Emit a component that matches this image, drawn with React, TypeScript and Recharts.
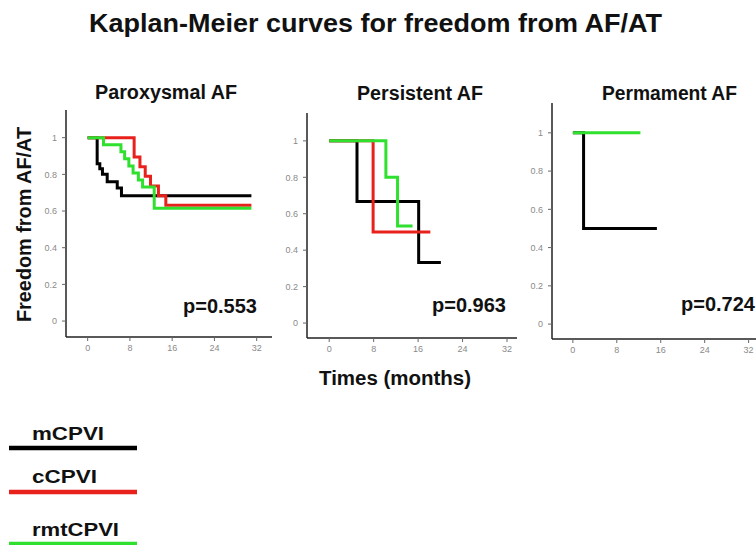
import { LineChart, Line, XAxis, YAxis } from "recharts";

const monthTicks = [0, 8, 16, 24, 32];
const freedomTicks = [0, 0.2, 0.4, 0.6, 0.8, 1];

const seriesNames = ["mCPVI", "cCPVI", "rmtCPVI"];
const seriesColors = ["#000000", "#e8211d", "#2fe02f"];

// Paroxysmal AF
const parMTime = [0, 1.8, 2.3, 2.8, 3.7, 5.6, 6.4, 31];
const parMFree = [1, 0.858, 0.83, 0.8, 0.76, 0.725, 0.684, 0.684];
const parCTime = [0, 8.8, 9.9, 10.9, 11.9, 13.4, 14.8, 31];
const parCFree = [1, 0.895, 0.842, 0.79, 0.737, 0.684, 0.632, 0.632];
const parRTime = [0, 3.0, 6.3, 7.0, 7.8, 8.6, 9.6, 10.4, 12.6, 31];
const parRFree = [1, 0.962, 0.923, 0.885, 0.846, 0.808, 0.769, 0.731, 0.615, 0.615];

// Persistent AF
const perMTime = [0, 5.0, 16.1, 20.1];
const perMFree = [1, 0.667, 0.333, 0.333];
const perCTime = [0, 7.9, 18.2];
const perCFree = [1, 0.5, 0.5];
const perRTime = [0, 10.2, 12.3, 15.0];
const perRFree = [1, 0.8, 0.533, 0.533];

// Permament AF
const permMTime = [0, 1.95, 15.3];
const permMFree = [1, 0.5, 0.5];
const permRTime = [0, 12.3];
const permRFree = [1, 1];

const toPoints = (time: number[], free: number[]) =>
    time.map((t, i) => ({ t, s: free[i] }));

type Curve = { name: string; color: string; points: { t: number; s: number }[] };

const fmtFreedom = (v: number) => (v === 0 || v === 1 ? String(v) : v.toFixed(1));

const FONT = "'Liberation Sans', Arial, sans-serif";

interface PanelProps {
    x: number;
    y: number;
    w: number;
    h: number;
    xDomain: [number, number];
    yDomain: [number, number];
    curves: Curve[];
}

const Panel = ({ x, y, w, h, xDomain, yDomain, curves }: PanelProps) => {
    const left = 42;
    const top = 6;
    const right = 6;
    const bottom = 28;
    const tickStyle = { fill: "#8a8a8a", fontSize: 9, fontFamily: FONT };

    return (
        <div style={{ position: "absolute", left: x - left, top: y - top }}>
            <LineChart
                width={w + left + right}
                height={h + top + bottom}
                margin={{ top, right, bottom: 0, left: 0 }}
            >
                <XAxis
                    type="number"
                    dataKey="t"
                    domain={xDomain}
                    ticks={monthTicks}
                    allowDataOverflow
                    height={bottom}
                    tickSize={4}
                    tickMargin={4}
                    axisLine={{ stroke: "#222", strokeWidth: 1.5 }}
                    tickLine={{ stroke: "#666" }}
                    tick={tickStyle}
                />
                <YAxis
                    type="number"
                    domain={yDomain}
                    ticks={freedomTicks}
                    allowDataOverflow
                    width={left}
                    tickSize={4}
                    tickMargin={5}
                    tickFormatter={fmtFreedom}
                    axisLine={{ stroke: "#222", strokeWidth: 1.5 }}
                    tickLine={{ stroke: "#666" }}
                    tick={tickStyle}
                />
                {curves.map((c) => (
                    <Line
                        key={c.name}
                        data={c.points}
                        dataKey="s"
                        type="stepAfter"
                        stroke={c.color}
                        strokeWidth={3}
                        dot={false}
                        isAnimationActive={false}
                    />
                ))}
            </LineChart>
        </div>
    );
};

const App = () => {
    const parCurves: Curve[] = [
        { name: seriesNames[0], color: seriesColors[0], points: toPoints(parMTime, parMFree) },
        { name: seriesNames[1], color: seriesColors[1], points: toPoints(parCTime, parCFree) },
        { name: seriesNames[2], color: seriesColors[2], points: toPoints(parRTime, parRFree) },
    ];
    const perCurves: Curve[] = [
        { name: seriesNames[0], color: seriesColors[0], points: toPoints(perMTime, perMFree) },
        { name: seriesNames[1], color: seriesColors[1], points: toPoints(perCTime, perCFree) },
        { name: seriesNames[2], color: seriesColors[2], points: toPoints(perRTime, perRFree) },
    ];
    const permCurves: Curve[] = [
        { name: seriesNames[0], color: seriesColors[0], points: toPoints(permMTime, permMFree) },
        { name: seriesNames[2], color: seriesColors[2], points: toPoints(permRTime, permRFree) },
    ];

    const legendY = [440, 483, 536];
    const legendLen = [72, 65, 87];
    const legendLineY = [448, 492, 544];

    return (
        <div
            style={{
                position: "absolute",
                left: 0,
                top: 0,
                width: 756,
                height: 545,
                overflow: "hidden",
                background: "#fff",
                fontFamily: FONT,
            }}
        >
            <Panel x={66} y={110} w={206} h={227} xDomain={[-4.1, 34.9]} yDomain={[-0.087, 1.151]} curves={parCurves} />
            <Panel x={307} y={113} w={210} h={225} xDomain={[-4, 33.8]} yDomain={[-0.082, 1.153]} curves={perCurves} />
            <Panel x={552} y={103} w={212} h={236} xDomain={[-3.8, 34.8]} yDomain={[-0.078, 1.156]} curves={permCurves} />

            <svg
                width={756}
                height={545}
                style={{ position: "absolute", left: 0, top: 0, pointerEvents: "none" }}
                fontFamily={FONT}
                fontWeight="bold"
                fill="#111"
            >
                <text x={89} y={31.5} fontSize={26} textLength={573} lengthAdjust="spacingAndGlyphs">
                    Kaplan-Meier curves for freedom from AF/AT
                </text>

                <text x={95} y={99} fontSize={19.5} textLength={142} lengthAdjust="spacingAndGlyphs">
                    Paroxysmal AF
                </text>
                <text x={357} y={100} fontSize={19.5} textLength={126} lengthAdjust="spacingAndGlyphs">
                    Persistent AF
                </text>
                <text x={602} y={100} fontSize={19.5} textLength={135} lengthAdjust="spacingAndGlyphs">
                    Permament AF
                </text>

                <text
                    transform="translate(31,224.5) rotate(-90)"
                    textAnchor="middle"
                    fontSize={19.5}
                    textLength={195}
                    lengthAdjust="spacingAndGlyphs"
                >
                    Freedom from AF/AT
                </text>
                <text x={319} y={385} fontSize={20} textLength={152} lengthAdjust="spacingAndGlyphs">
                    Times (months)
                </text>

                <text x={257} y={313} fontSize={20} textAnchor="end">p=0.553</text>
                <text x={506} y={312} fontSize={20} textAnchor="end">p=0.963</text>
                <text x={755} y={311} fontSize={20} textAnchor="end">p=0.724</text>

                {seriesNames.map((name, i) => (
                    <g key={name}>
                        <text x={32} y={legendY[i]} fontSize={19} textLength={legendLen[i]} lengthAdjust="spacingAndGlyphs">
                            {name}
                        </text>
                        <line x1={9} x2={137} y1={legendLineY[i]} y2={legendLineY[i]} stroke={seriesColors[i]} strokeWidth={4.5} />
                    </g>
                ))}
            </svg>
        </div>
    );
};

export default App;
